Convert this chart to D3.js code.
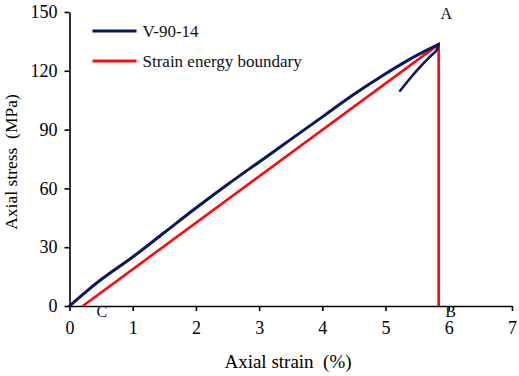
<!DOCTYPE html>
<html>
<head>
<meta charset="utf-8">
<script src="https://cdn.jsdelivr.net/npm/d3@7"></script>
<style>
  body { margin: 0; background: #fff; }
</style>
</head>
<body>
<svg id="chart" width="519" height="376"></svg>
<script>
const FONT = "'Liberation Serif', 'DejaVu Serif', 'Times New Roman', Times, serif";

// loading branch of the stress-strain curve (strain %, stress MPa)
const loadStrain = [0, 0.25, 0.5, 1, 1.5, 2, 2.5, 3, 3.5, 4, 4.5, 5, 5.5, 5.84];
const loadStress = [0, 7, 13.5, 25, 37.5, 50, 62, 73.5, 85, 96.5, 108, 118.5, 128, 133.5];
// post-peak unloading branch
const unloadStrain = [5.84, 5.81, 5.68, 5.55, 5.39, 5.23];
const unloadStress = [133.5, 130.6, 126.5, 122.1, 116.2, 109.8];
// strain energy boundary: C -> A -> B
const boundStrain = [0.21, 5.84, 5.84];
const boundStress = [0, 133.5, 0];

const xTicks = [0, 1, 2, 3, 4, 5, 6, 7];
const yTicks = [0, 30, 60, 90, 120, 150];
const seriesNames = ["V-90-14", "Strain energy boundary"];
const seriesColors = ["#0b1660", "#ff0a0a"];

const margin = { top: 12, right: 7, bottom: 70, left: 69.5 };
const svg = d3.select("#chart").attr("font-family", FONT);
const W = 519, H = 376;
const figW = W - margin.left - margin.right;
const figH = H - margin.top - margin.bottom;

const x = d3.scaleLinear().domain([0, 7]).range([0, figW]);
const y = d3.scaleLinear().domain([0, 150]).range([figH, 0]);

const fig = svg.append("g")
    .attr("transform", `translate(${margin.left},${margin.top})`);

// axes
const xAxis = fig.append("g")
    .attr("transform", `translate(0,${figH})`)
    .call(d3.axisBottom(x).tickValues(xTicks).tickFormat(d3.format("d"))
        .tickSize(5).tickSizeOuter(0).tickPadding(10));
const yAxis = fig.append("g")
    .call(d3.axisLeft(y).tickValues(yTicks).tickFormat(d3.format("d"))
        .tickSize(5).tickSizeOuter(0).tickPadding(7));

[xAxis, yAxis].forEach(a => {
    a.attr("font-family", FONT).attr("font-size", 18);
    a.select(".domain").attr("stroke", "#000").attr("stroke-width", 1.6);
    a.selectAll(".tick line").attr("stroke", "#000").attr("stroke-width", 1.6);
    a.selectAll(".tick text").attr("fill", "#000");
});

// curves
const line = d3.line().x(d => x(d[0])).y(d => y(d[1]));

fig.append("path")
    .datum(boundStrain.map((v, i) => [v, boundStress[i]]))
    .attr("fill", "none")
    .attr("stroke", seriesColors[1])
    .attr("stroke-width", 2.6)
    .attr("d", line);

const curveLine = d3.line().x(d => x(d[0])).y(d => y(d[1])).curve(d3.curveMonotoneX);
fig.append("path")
    .datum(loadStrain.map((v, i) => [v, loadStress[i]]))
    .attr("fill", "none")
    .attr("stroke", seriesColors[0])
    .attr("stroke-width", 3)
    .attr("stroke-linecap", "round")
    .attr("d", curveLine);

fig.append("path")
    .datum(unloadStrain.map((v, i) => [v, unloadStress[i]]))
    .attr("fill", "none")
    .attr("stroke", seriesColors[0])
    .attr("stroke-width", 2.6)
    .attr("stroke-linecap", "round")
    .attr("d", d3.line().x(d => x(d[0])).y(d => y(d[1])).curve(d3.curveCatmullRom));

// point labels
const pointLabels = [
    { t: "A", sx: boundStrain[1] + 0.12, sy: 149.5 },
    { t: "B", sx: boundStrain[2] + 0.19, sy: -2.5 },
    { t: "C", sx: boundStrain[0] + 0.3, sy: -2.5 }
];
fig.selectAll(".plabel")
    .data(pointLabels)
    .enter()
    .append("text")
    .attr("x", d => x(d.sx))
    .attr("y", d => y(d.sy) + 6)
    .attr("text-anchor", "middle")
    .attr("font-size", 16)
    .attr("fill", "#111")
    .text(d => d.t);

// legend
const legend = fig.append("g").attr("transform", "translate(23,19)");
seriesNames.forEach((name, i) => {
    const g = legend.append("g").attr("transform", `translate(0,${i * 30})`);
    g.append("line")
        .attr("x1", 0).attr("x2", 44)
        .attr("stroke", seriesColors[i])
        .attr("stroke-width", 3);
    g.append("text")
        .attr("x", 50).attr("y", 5.5)
        .attr("font-size", 17)
        .attr("fill", "#111")
        .text(name);
});

// axis titles
svg.append("text")
    .attr("x", 288).attr("y", 368)
    .attr("text-anchor", "middle")
    .attr("font-size", 19)
    .attr("xml:space", "preserve")
    .text("Axial strain  (%)");

svg.append("text")
    .attr("transform", "translate(17,162) rotate(-90)")
    .attr("text-anchor", "middle")
    .attr("font-size", 17.5)
    .attr("xml:space", "preserve")
    .text("Axial stress  (MPa)");
</script>
</body>
</html>
